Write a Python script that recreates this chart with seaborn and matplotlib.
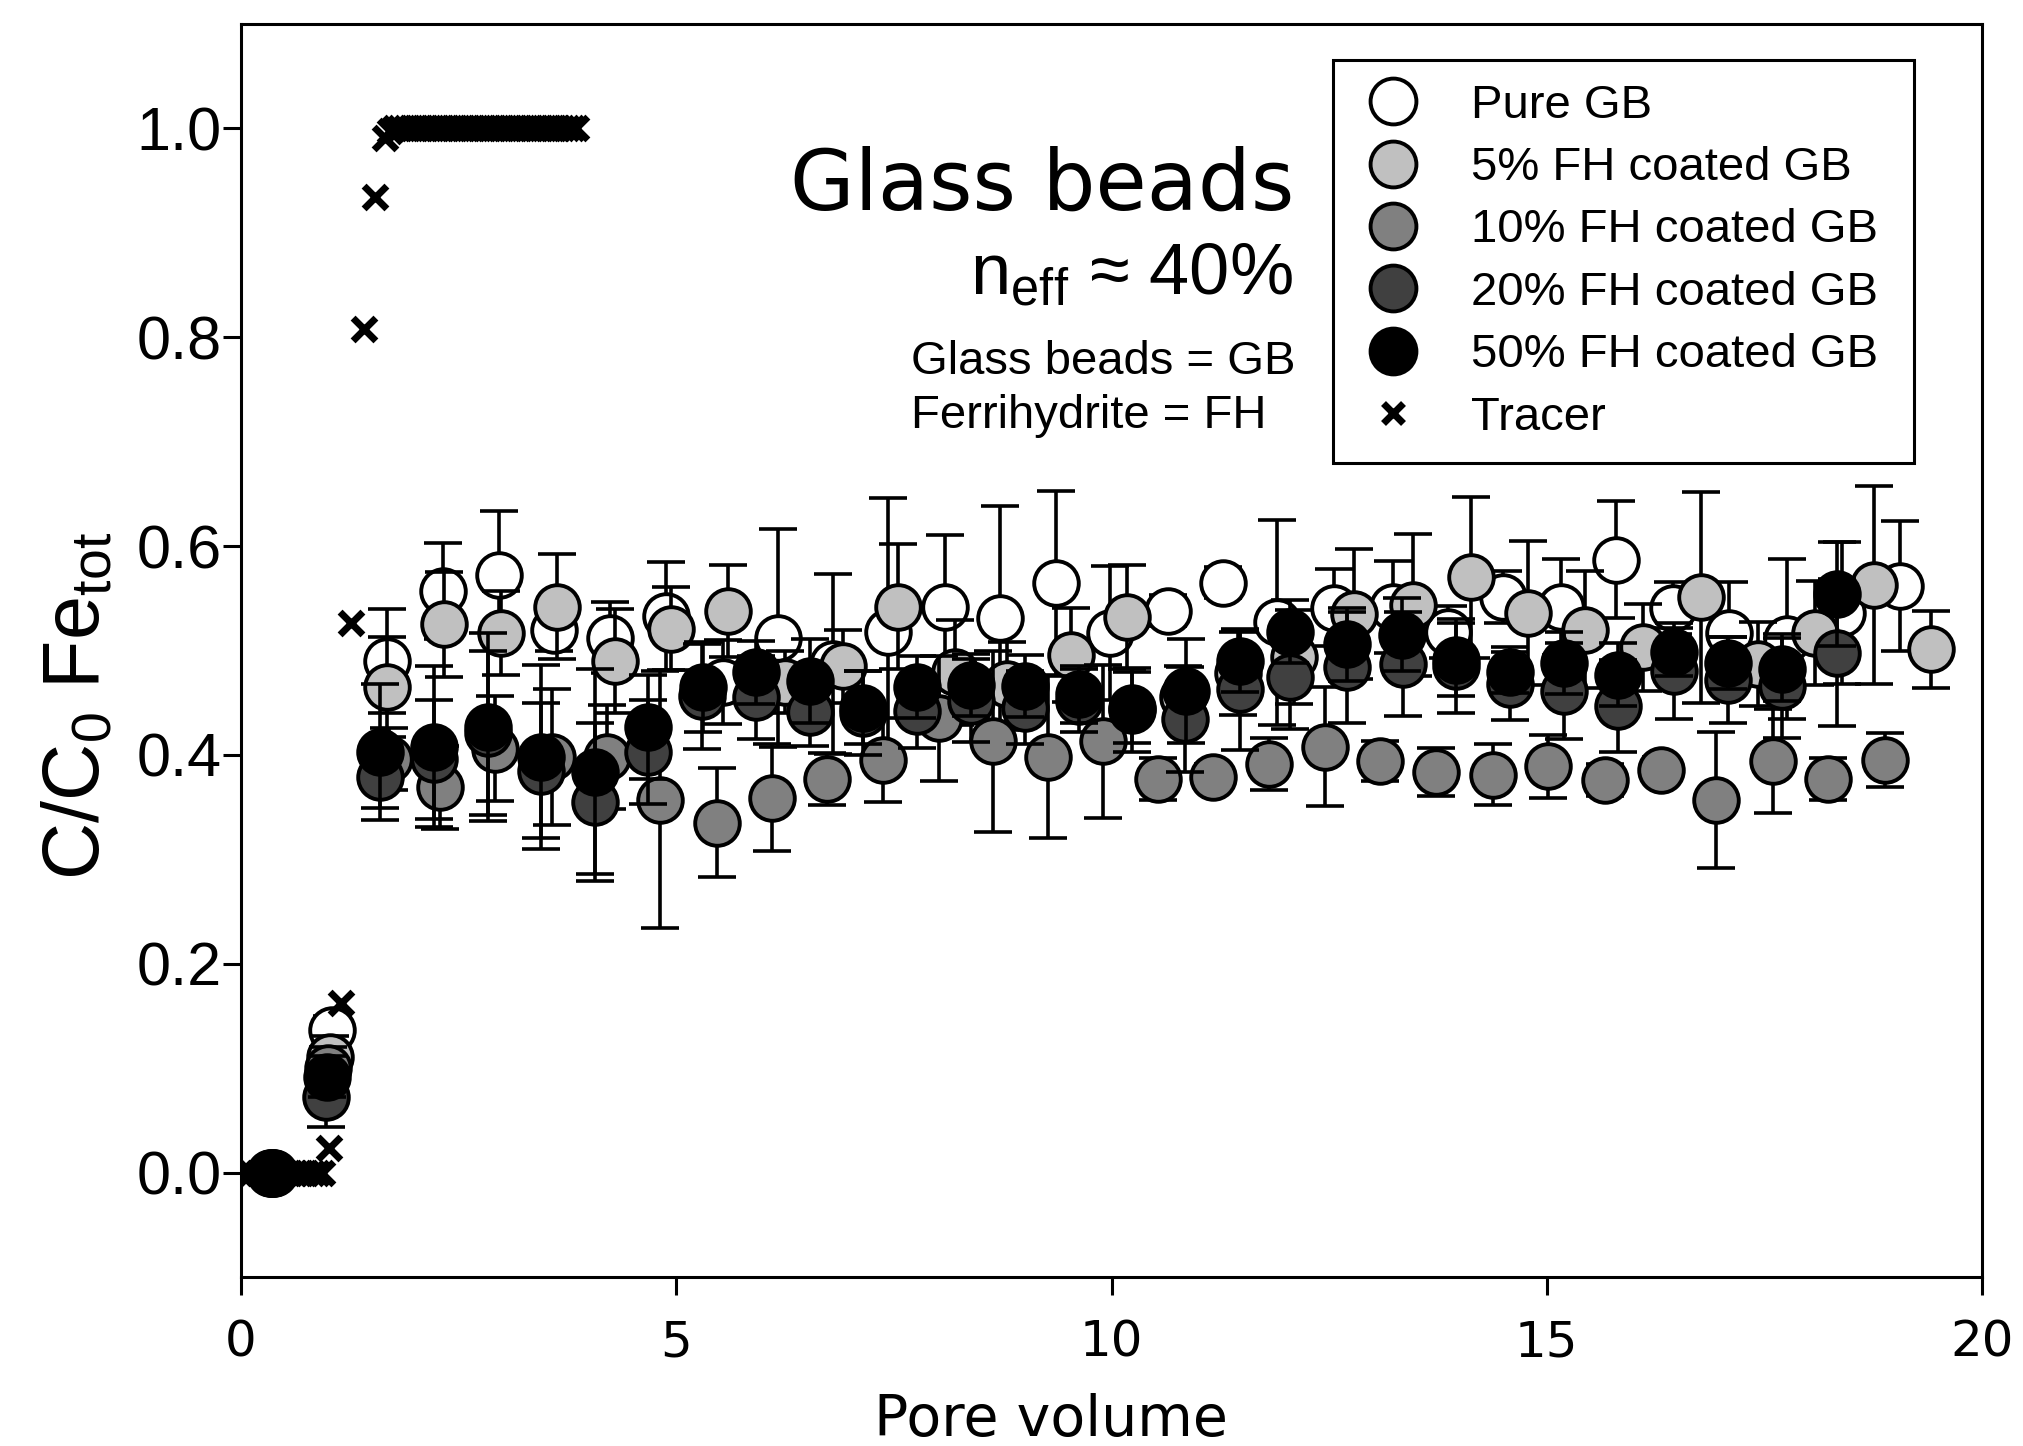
import matplotlib
matplotlib.use("Agg")
import matplotlib.pyplot as plt
import seaborn as sns
from matplotlib.lines import Line2D

# ---------------- data ----------------
pure_x = [0.38, 1.05, 1.68, 2.32, 2.96, 3.60, 4.24, 4.88, 5.54, 6.17, 6.80, 7.43, 8.09, 8.72, 9.36,
          9.98, 10.65, 11.28, 11.90, 12.56, 13.23, 13.86, 14.50, 15.16, 15.80, 16.45, 17.09, 17.76, 18.39, 19.06]
pure_y = [0.0, 0.137, 0.490, 0.557, 0.572, 0.520, 0.512, 0.533, 0.470, 0.512, 0.487, 0.518, 0.542, 0.531, 0.565,
          0.517, 0.538, 0.565, 0.527, 0.541, 0.542, 0.518, 0.551, 0.542, 0.587, 0.541, 0.517, 0.511, 0.536, 0.562]
pure_err = [0.0, 0.013, 0.050, 0.046, 0.062, 0.020, 0.034, 0.052, 0.040, 0.104, 0.086, 0.128, 0.069, 0.107, 0.088,
            0.064, 0.015, 0.015, 0.098, 0.037, 0.044, 0.025, 0.025, 0.046, 0.056, 0.025, 0.049, 0.077, 0.068, 0.062]

fh5_x = [0.35, 1.02, 1.68, 2.33, 2.99, 3.63, 4.30, 4.94, 5.59, 6.25, 6.92, 7.55, 8.20, 8.80, 9.53,
         10.18, 10.82, 11.45, 12.10, 12.79, 13.46, 14.13, 14.78, 15.44, 16.11, 16.77, 17.43, 18.08, 18.76, 19.41]
fh5_y = [0.0, 0.111, 0.465, 0.525, 0.517, 0.542, 0.490, 0.521, 0.538, 0.470, 0.485, 0.542, 0.479, 0.468, 0.496,
         0.532, 0.455, 0.478, 0.494, 0.535, 0.544, 0.570, 0.536, 0.520, 0.503, 0.551, 0.487, 0.517, 0.563, 0.501]
fh5_err = [0.0, 0.020, 0.048, 0.050, 0.040, 0.050, 0.050, 0.040, 0.044, 0.030, 0.035, 0.060, 0.050, 0.040, 0.045,
           0.050, 0.030, 0.040, 0.045, 0.062, 0.068, 0.077, 0.069, 0.056, 0.042, 0.101, 0.040, 0.050, 0.095, 0.037]

fh10_x = [0.33, 1.00, 1.70, 2.29, 2.92, 3.57, 4.20, 4.81, 5.47, 6.10, 6.73, 7.37, 8.02, 8.64, 9.27,
          9.90, 10.53, 11.17, 11.81, 12.45, 13.08, 13.73, 14.38, 15.01, 15.67, 16.31, 16.94, 17.60, 18.23, 18.89]
fh10_y = [0.0, 0.100, 0.396, 0.369, 0.406, 0.398, 0.398, 0.357, 0.335, 0.359, 0.377, 0.395, 0.435, 0.413, 0.398,
          0.413, 0.377, 0.379, 0.391, 0.408, 0.394, 0.384, 0.381, 0.389, 0.376, 0.386, 0.357, 0.394, 0.377, 0.395]
fh10_err = [0.0, 0.020, 0.030, 0.040, 0.050, 0.065, 0.050, 0.123, 0.052, 0.051, 0.025, 0.040, 0.060, 0.087, 0.078,
            0.073, 0.020, 0.012, 0.025, 0.057, 0.019, 0.023, 0.029, 0.030, 0.015, 0.012, 0.065, 0.050, 0.020, 0.026]

fh20_x = [0.36, 0.98, 1.60, 2.22, 2.84, 3.45, 4.07, 4.68, 5.30, 5.92, 6.54, 7.15, 7.77, 8.39, 9.01,
          9.63, 10.24, 10.85, 11.48, 12.05, 12.71, 13.35, 13.96, 14.58, 15.20, 15.82, 16.46, 17.08, 17.70, 18.33]
fh20_y = [0.0, 0.072, 0.379, 0.396, 0.421, 0.385, 0.355, 0.403, 0.456, 0.455, 0.441, 0.440, 0.442, 0.452, 0.445,
          0.452, 0.443, 0.434, 0.463, 0.475, 0.484, 0.487, 0.485, 0.468, 0.461, 0.447, 0.480, 0.472, 0.466, 0.498]
fh20_err = [0.0, 0.028, 0.030, 0.057, 0.079, 0.065, 0.076, 0.050, 0.050, 0.040, 0.032, 0.040, 0.035, 0.040, 0.035,
            0.030, 0.040, 0.050, 0.058, 0.050, 0.053, 0.050, 0.045, 0.035, 0.046, 0.044, 0.046, 0.041, 0.050, 0.070]

fh50_x = [0.37, 0.99, 1.60, 2.22, 2.84, 3.45, 4.07, 4.68, 5.31, 5.92, 6.54, 7.15, 7.77, 8.39, 9.01,
          9.63, 10.24, 10.86, 11.48, 12.05, 12.71, 13.34, 13.96, 14.58, 15.20, 15.82, 16.46, 17.08, 17.70, 18.33]
fh50_y = [0.0, 0.092, 0.403, 0.408, 0.427, 0.398, 0.384, 0.427, 0.465, 0.479, 0.471, 0.445, 0.465, 0.467, 0.466,
          0.458, 0.445, 0.461, 0.490, 0.518, 0.506, 0.515, 0.491, 0.479, 0.488, 0.477, 0.499, 0.488, 0.482, 0.554]
fh50_err = [0.0, 0.020, 0.065, 0.077, 0.090, 0.088, 0.098, 0.050, 0.043, 0.030, 0.040, 0.035, 0.030, 0.030, 0.030,
            0.027, 0.034, 0.050, 0.030, 0.030, 0.035, 0.035, 0.035, 0.020, 0.030, 0.030, 0.023, 0.025, 0.030, 0.050]

tracer_x = [0.00, 0.06, 0.12, 0.19, 0.25, 0.31, 0.37, 0.44, 0.50, 0.56, 0.62, 0.69, 0.75, 0.81, 0.87, 0.93,
            1.01, 1.15, 1.26, 1.41, 1.54, 1.65, 1.71,
            1.77, 1.83, 1.89, 1.95, 2.01, 2.07, 2.13, 2.19, 2.25, 2.31, 2.37, 2.43, 2.49, 2.55, 2.61, 2.67,
            2.73, 2.79, 2.85, 2.91, 2.97, 3.03, 3.09, 3.15, 3.21, 3.27, 3.33, 3.39, 3.45, 3.51, 3.57, 3.63,
            3.69, 3.75, 3.80, 3.85]
tracer_y = [0.0, 0.0, 0.0, 0.0, 0.0, 0.0, 0.0, 0.0, 0.0, 0.0, 0.0, 0.0, 0.0, 0.0, 0.0, 0.0,
            0.024, 0.162, 0.526, 0.808, 0.934, 0.991, 0.998,
            1.0, 1.0, 1.0, 1.0, 1.0, 1.0, 1.0, 1.0, 1.0, 1.0, 1.0, 1.0, 1.0, 1.0, 1.0, 1.0,
            1.0, 1.0, 1.0, 1.0, 1.0, 1.0, 1.0, 1.0, 1.0, 1.0, 1.0, 1.0, 1.0, 1.0, 1.0, 1.0,
            1.0, 1.0, 1.0, 1.0]

series_labels = ["Pure GB", "5% FH coated GB", "10% FH coated GB", "20% FH coated GB", "50% FH coated GB"]
series_colors = ["#ffffff", "#c0c0c0", "#808080", "#404040", "#000000"]
tracer_label = "Tracer"

x_ticks = [0, 5, 10, 15, 20]
y_ticks = [0.0, 0.2, 0.4, 0.6, 0.8, 1.0]
y_tick_labels = ["0.0", "0.2", "0.4", "0.6", "0.8", "1.0"]

# ---------------- style ----------------
sns.set_theme(style="ticks")
plt.rcParams["font.family"] = ["Liberation Sans", "DejaVu Sans"]
plt.rcParams["mathtext.fontset"] = "custom"
plt.rcParams["mathtext.rm"] = "Liberation Sans"
plt.rcParams["mathtext.it"] = "Liberation Sans:italic"
plt.rcParams["mathtext.bf"] = "Liberation Sans:bold"
plt.rcParams["text.color"] = "black"
plt.rcParams["axes.labelcolor"] = "black"
plt.rcParams["xtick.color"] = "black"
plt.rcParams["ytick.color"] = "black"
plt.rcParams["axes.edgecolor"] = "black"

W, H = 2023, 1446
fig = plt.figure(figsize=(W / 100, H / 100), dpi=100)
fig.patch.set_facecolor("white")
ax = fig.add_axes([241 / W, (H - 1277) / H, (1982 - 241) / W, (1277 - 24) / H])
ax.set_facecolor("white")

all_series = [
    (pure_x, pure_y, pure_err),
    (fh5_x, fh5_y, fh5_err),
    (fh10_x, fh10_y, fh10_err),
    (fh20_x, fh20_y, fh20_err),
    (fh50_x, fh50_y, fh50_err),
]

for i, ((xs, ys, es), col) in enumerate(zip(all_series, series_colors)):
    ax.errorbar(xs, ys, yerr=es, fmt="none", ecolor="black", elinewidth=2.6,
                capsize=13.5, capthick=2.6, zorder=3 + 2 * i)
    sns.scatterplot(x=xs, y=ys, ax=ax, s=1030, color=col, edgecolor="black",
                    linewidth=2.8, zorder=4 + 2 * i, legend=False)

sns.scatterplot(x=tracer_x, y=tracer_y, ax=ax, marker="x", s=270, color="black",
                linewidth=5, zorder=20, legend=False)

ax.set_xlim(0, 20)
ax.set_ylim(-0.1, 1.1)
ax.set_xticks(x_ticks)
ax.set_xticklabels([str(t) for t in x_ticks], fontfamily="DejaVu Sans", fontsize=36)
ax.set_yticks(y_ticks)
ax.set_yticklabels(y_tick_labels, fontfamily="Liberation Sans", fontsize=44)
ax.tick_params(axis="both", which="major", direction="out", length=13, width=2.2,
               color="black", labelcolor="black")
ax.tick_params(axis="x", pad=17)
ax.tick_params(axis="y", pad=1)
ax.minorticks_off()
for sp in ax.spines.values():
    sp.set_color("black")
    sp.set_linewidth(2.2)
    sp.set_visible(True)

ax.set_xlabel("Pore volume", fontfamily="DejaVu Sans", fontsize=41, color="black")
ax.xaxis.set_label_coords(0.465, -0.0927)
ax.set_ylabel(r"C/C$_{\mathrm{0}}$ Fe$_{\mathrm{tot}}$", fontfamily="Liberation Sans",
              fontsize=57, color="black")
ax.yaxis.set_label_coords(-0.072, 0.456)

# ---------------- annotations ----------------
fig.text(1294 / W, 1 - 210 / H, "Glass beads", fontfamily="DejaVu Sans", fontsize=60,
         ha="right", va="baseline", color="black")
fig.text(1293 / W, 1 - 294 / H, r"n$_{\mathrm{eff}}$ ≈ 40%", fontfamily="Liberation Sans",
         fontsize=52, ha="right", va="baseline", color="black")
fig.text(911 / W, 1 - 374 / H, "Glass beads = GB", fontfamily="Liberation Sans", fontsize=34,
         ha="left", va="baseline", color="black")
fig.text(911 / W, 1 - 428 / H, "Ferrihydrite = FH", fontfamily="Liberation Sans", fontsize=34,
         ha="left", va="baseline", color="black")

# ---------------- legend ----------------
handles = [Line2D([], [], ls="none", marker="o", ms=33, mfc=c, mec="black", mew=2.8)
           for c in series_colors]
handles.append(Line2D([], [], ls="none", marker="x", ms=15, mew=5, color="black"))
labels = series_labels + [tracer_label]
x0 = (1333 - 241) / 1741
x1 = (1914 - 241) / 1741
ytop = (1277 - 61) / 1252
leg = ax.legend(handles, labels, loc="upper left", bbox_to_anchor=(x0, ytop, x1 - x0, 0.0),
                mode="expand", prop={"family": "Liberation Sans", "size": 34}, frameon=True,
                fancybox=False, edgecolor="black", framealpha=1, borderpad=0.5,
                labelspacing=0.39, handlelength=1.55, handletextpad=0.88, borderaxespad=0,
                labelcolor="black")
leg.get_frame().set_linewidth(2.2)
leg.set_zorder(30)

fig.savefig("out.png", dpi=100, facecolor="white")
